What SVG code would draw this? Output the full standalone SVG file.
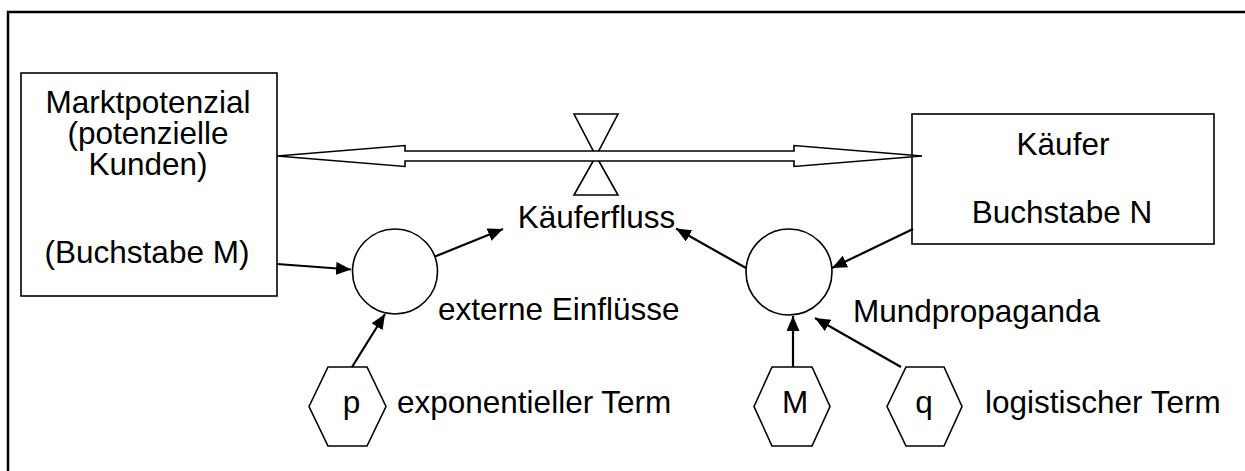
<svg xmlns="http://www.w3.org/2000/svg" width="1245" height="471" viewBox="0 0 1245 471">
<style>
.t{font-family:"Liberation Sans",Arial,sans-serif;font-size:31.5px;fill:#000}
.m{text-anchor:middle}
.box{fill:#fff;stroke:#000;stroke-width:1.6}
.shape{fill:#fff;stroke:#000;stroke-width:1.6}
.con{fill:none;stroke:#000;stroke-width:2.2}
</style>
<defs>
<marker id="ah" markerUnits="userSpaceOnUse" markerWidth="16" markerHeight="14" refX="15" refY="6.5" orient="auto">
<path d="M0,0 L15,6.5 L0,13 Z" fill="#000"/>
</marker>
</defs>
<rect x="0" y="0" width="1245" height="471" fill="#fff"/>
<path d="M1260,12 H8 V490" fill="none" stroke="#000" stroke-width="2.5"/>
<g id="markt">
<rect class="box" x="21" y="73" width="256" height="223"/>
<text class="t m" x="148" y="113">Marktpotenzial</text>
<text class="t m" x="148" y="144">(potenzielle</text>
<text class="t m" x="148" y="175">Kunden)</text>
<text class="t m" x="147" y="263">(Buchstabe M)</text>
</g>
<g id="kaeufer">
<rect class="box" x="912" y="114" width="302" height="130"/>
<text class="t m" x="1063" y="155">Käufer</text>
<text class="t m" x="1062" y="223">Buchstabe N</text>
</g>
<g id="ventil">
<polygon class="shape" points="574,114 618,114 596,156"/>
<polygon class="shape" points="596,156 574,195 618,195"/>
</g>
<g id="fluss">
<polygon class="shape" points="277,156 405,145.5 405,151 794,151 794,145.5 922,156 794,166.5 794,161 405,161 405,166.5"/>
</g>
<g id="kaeuferfluss">
<text class="t m" x="596.5" y="228">Käuferfluss</text>
</g>
<g id="extern">
<circle class="shape" cx="395" cy="271.5" r="42.5"/>
<text class="t" x="438" y="320">externe Einflüsse</text>
</g>
<g id="mund">
<circle class="shape" cx="789" cy="272" r="43"/>
<text class="t" x="853" y="322">Mundpropaganda</text>
</g>
<g id="p">
<polygon class="shape" points="309,406.5 328,367 367,367 386,406.5 367,446 328,446"/>
<text class="t m" x="351.5" y="413">p</text>
<text class="t" x="397" y="413">exponentieller Term</text>
</g>
<g id="M">
<polygon class="shape" points="754,406.5 772,367 812,367 830,406.5 812,446 772,446"/>
<text class="t m" x="795" y="413">M</text>
</g>
<g id="q">
<polygon class="shape" points="887,406.5 906,367 944,367 962,406.5 944,446 906,446"/>
<text class="t m" x="924" y="413">q</text>
<text class="t" x="985" y="413">logistischer Term</text>
</g>
<g id="connectors">
<line class="con" x1="277" y1="264" x2="351" y2="269.5" marker-end="url(#ah)"/>
<line class="con" x1="435" y1="256.5" x2="503" y2="229" marker-end="url(#ah)"/>
<line class="con" x1="352" y1="367" x2="385" y2="314" marker-end="url(#ah)"/>
<line class="con" x1="913" y1="229" x2="832" y2="268" marker-end="url(#ah)"/>
<line class="con" x1="746" y1="268" x2="676" y2="228.5" marker-end="url(#ah)"/>
<line class="con" x1="793" y1="367" x2="793" y2="316" marker-end="url(#ah)"/>
<line class="con" x1="901" y1="367" x2="815" y2="318" marker-end="url(#ah)"/>
</g>
</svg>
